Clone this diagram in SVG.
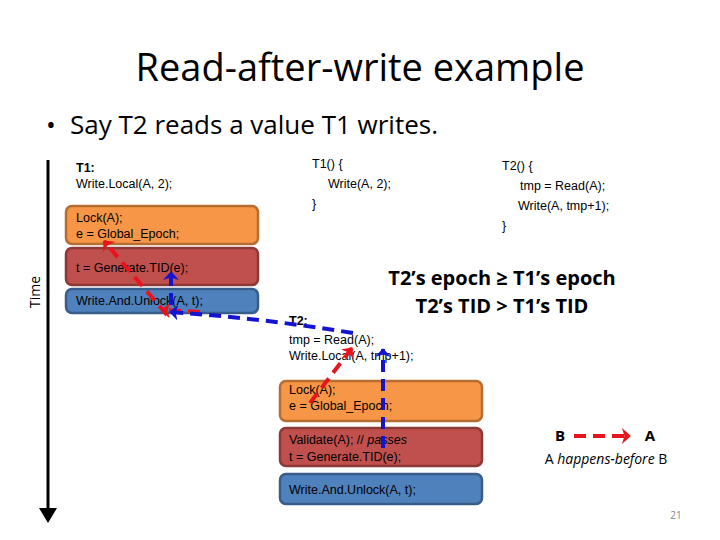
<svg xmlns="http://www.w3.org/2000/svg" width="720" height="540" viewBox="0 0 720 540">
<style>
.c{font-family:"Liberation Sans",Arial,sans-serif;font-size:12.5px;fill:#000}
.t{font-family:"Open Sans","Noto Sans",sans-serif}
.o{fill:#f79646;stroke:#b66d31;stroke-width:2.5}
.r{fill:#c0504d;stroke:#8c3836;stroke-width:2.5}
.b{fill:#4f81bd;stroke:#385d8a;stroke-width:2.5}
.rd{stroke:#e8141c;stroke-width:4;stroke-dasharray:12 7;fill:none;marker-end:url(#ra)}
.bd{stroke:#1414d0;stroke-width:4;stroke-dasharray:12 7;fill:none;marker-end:url(#ba)}
</style>
<defs>
<marker id="ra" markerWidth="4" markerHeight="4" refX="2" refY="2" orient="auto"><path d="M0,0L2.2,2L0,4L0.6,2Z" fill="#e8141c"/></marker>
<marker id="ba" markerWidth="4" markerHeight="4" refX="2" refY="2" orient="auto"><path d="M0,0L2.2,2L0,4L0.6,2Z" fill="#1414d0"/></marker>
<marker id="ka" markerWidth="6" markerHeight="6" refX="4" refY="3" orient="auto"><path d="M0,0L5,3L0,6Z" fill="#000"/></marker>
</defs>
<rect width="720" height="540" fill="#fff"/>
<text x="360" y="81" text-anchor="middle" class="t" font-size="38">Read-after-write example</text>
<text x="46" y="134" class="t" font-size="26">•</text>
<text x="70" y="134" class="t" font-size="26">Say T2 reads a value T1 writes.</text>
<g id="timeaxis"><line x1="48" y1="160" x2="48" y2="520" stroke="#000" stroke-width="3" marker-end="url(#ka)"/>
<text x="40" y="292" transform="rotate(-90 40 292)" text-anchor="middle" class="t" font-size="14">Time</text></g>
<g id="t1label"><text x="76" y="172" class="c" font-weight="bold">T1:</text><text x="76" y="188" class="c">Write.Local(A, 2);</text></g>
<g id="t1lock"><rect x="66" y="206" width="192" height="38" rx="6" class="o"/><text x="76" y="222" class="c">Lock(A);</text><text x="76" y="238" class="c">e = Global_Epoch;</text></g>
<g id="t1gen"><rect x="66" y="248" width="192" height="37" rx="6" class="r"/><text x="76" y="272" class="c">t = Generate.TID(e);</text></g>
<g id="t1write"><rect x="66" y="289" width="192" height="24" rx="6" class="b"/><text x="76" y="305" class="c">Write.And.Unlock(A, t);</text></g>
<g id="t1code"><text x="312" y="168" class="c" font-size="14">T1() {</text><text x="328" y="188" class="c" font-size="14">Write(A, 2);</text><text x="312" y="208" class="c" font-size="14">}</text></g>
<g id="t2code"><text x="502" y="170" class="c" font-size="14">T2() {</text><text x="520" y="190" class="c" font-size="14">tmp = Read(A);</text><text x="518" y="210" class="c" font-size="14">Write(A, tmp+1);</text><text x="502" y="230" class="c" font-size="14">}</text></g>
<g id="cond"><text x="502" y="285" text-anchor="middle" class="t" font-size="20" font-weight="bold">T2’s epoch ≥ T1’s epoch</text><text x="502" y="313" text-anchor="middle" class="t" font-size="20" font-weight="bold">T2’s TID &gt; T1’s TID</text></g>
<g id="t2label"><text x="289" y="325" class="c" font-weight="bold">T2:</text><text x="289" y="344" class="c">tmp = Read(A);</text><text x="289" y="360" class="c">Write.Local(A, tmp+1);</text></g>
<g id="t2lock"><rect x="280" y="381" width="202" height="40" rx="6" class="o"/><text x="289" y="394" class="c">Lock(A);</text><text x="289" y="410" class="c">e = Global_Epoch;</text></g>
<g id="t2val"><rect x="280" y="428" width="202" height="38" rx="6" class="r"/><text x="289" y="444" class="c">Validate(A); // <tspan font-style="italic">passes</tspan></text><text x="289" y="461" class="c">t = Generate.TID(e);</text></g>
<g id="t2write"><rect x="280" y="474" width="202" height="30" rx="6" class="b"/><text x="289" y="494" class="c">Write.And.Unlock(A, t);</text></g>
<g id="legend"><text x="560" y="441" text-anchor="middle" class="t" font-size="15" font-weight="bold">B</text><text x="650" y="441" text-anchor="middle" class="t" font-size="15" font-weight="bold">A</text>
<line x1="574" y1="436" x2="630" y2="436" class="rd"/>
<text x="606" y="464" text-anchor="middle" class="t" font-size="14">A <tspan font-style="italic">happens-before</tspan> B</text></g>
<text x="676" y="519" text-anchor="middle" class="t" font-size="10" fill="#888">21</text>
<g id="connectors">
<line x1="310" y1="403" x2="352" y2="348" class="rd"/>
<line x1="167" y1="315" x2="104" y2="241" class="rd"/>
<line x1="200" y1="312" x2="162" y2="310" class="rd"/>
<line x1="383" y1="448" x2="383" y2="349" class="bd"/>
<path d="M353,333 Q260,318 170,312" class="bd"/>
<line x1="171" y1="305" x2="171" y2="272" class="bd"/>
</g>
</svg>
